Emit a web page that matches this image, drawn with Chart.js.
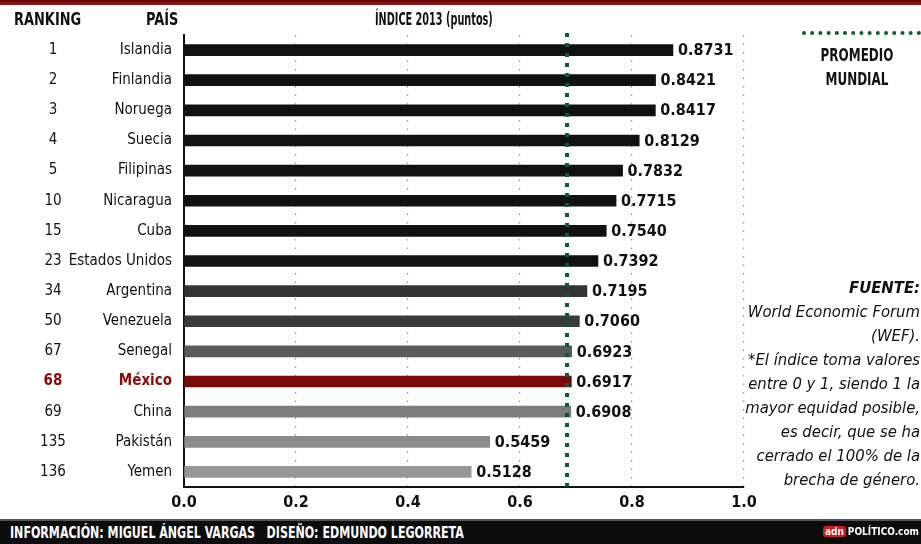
<!DOCTYPE html>
<html>
<head>
<meta charset="utf-8">
<script src="https://cdn.jsdelivr.net/npm/chart.js@4.4.0/dist/chart.umd.min.js"></script>
<style>
  body { margin: 0; width: 921px; height: 544px; overflow: hidden; background: #fff;
    font-family: "Liberation Sans Narrow", "DejaVu Sans Condensed", sans-serif; position: relative; }
  .topbar { position: absolute; left: 0; top: 0; width: 921px; height: 5px;
    background: linear-gradient(#5a0606, #a01818); }
  .hdr { position: absolute; top: 8px; font-weight: bold; font-size: 18px; color: #111;
    transform: scaleX(0.8); transform-origin: left; white-space: nowrap; }
  #wrap { position: absolute; left: 0; top: 0; width: 921px; height: 518px; }
  .legline { position: absolute; left: 802px; top: 31px; width: 119px; border-top: 4px dotted #0b5b2b; }
  .legtxt { position: absolute; left: 790px; top: 43px; width: 134px; text-align: center;
    font-weight: bold; font-size: 17.5px; line-height: 24px; color: #111;
    transform: scaleX(0.76); transform-origin: center; }
  .note { position: absolute; right: 1px; top: 276px; text-align: right; font-style: italic;
    font-size: 16.5px; line-height: 24px; color: #111; }
  .footer { position: absolute; left: 0; top: 519px; width: 921px; height: 25px; background: #0c0c0c;
    border-top: 2px solid #555; box-sizing: border-box; color: #fff; font-weight: bold; font-size: 15px; }
  .footer .cred { position: absolute; left: 10px; top: 3px; white-space: nowrap;
    transform: scaleX(0.82); transform-origin: left; }
  .logo { position: absolute; right: 2px; top: 5px; font-size: 10px; }
  .logo b { background: #d01c1c; border-radius: 3px; padding: 0 2px; margin-right: 2px; }
</style>
</head>
<body>
<div class="topbar"></div>
<div id="wrap"><canvas id="chart"></canvas></div>
<div class="hdr" style="left:14px">RANKING</div>
<div class="hdr" style="left:146px">PAÍS</div>
<div class="hdr" style="left:375px; transform: scaleX(0.6)">ÍNDICE 2013 (puntos)</div>
<div class="legline"></div>
<div class="legtxt">PROMEDIO<br>MUNDIAL</div>
<div class="note"><b>FUENTE:</b><br>World Economic Forum<br>(WEF).<br>*El índice toma valores<br>entre 0 y 1, siendo 1 la<br>mayor equidad posible,<br>es decir, que se ha<br>cerrado el 100% de la<br>brecha de género.</div>
<div class="footer">
  <span class="cred">INFORMACIÓN: MIGUEL ÁNGEL VARGAS &nbsp; DISEÑO: EDMUNDO LEGORRETA</span>
  <span class="logo"><b>adn</b>POLÍTICO.com</span>
</div>
<script>
// Índice global de brecha de género 2013
const rankings = [1, 2, 3, 4, 5, 10, 15, 23, 34, 50, 67, 68, 69, 135, 136];
const countries = ["Islandia", "Finlandia", "Noruega", "Suecia", "Filipinas", "Nicaragua", "Cuba",
  "Estados Unidos", "Argentina", "Venezuela", "Senegal", "México", "China", "Pakistán", "Yemen"];
const values = [0.8731, 0.8421, 0.8417, 0.8129, 0.7832, 0.7715, 0.754, 0.7392,
  0.7195, 0.706, 0.6923, 0.6917, 0.6908, 0.5459, 0.5128];
const worldAverage = 0.684;
const xTicks = [0, 0.2, 0.4, 0.6, 0.8, 1.0];

const barColors = ["#111", "#111", "#111", "#111", "#111", "#111", "#111", "#111",
  "#343434", "#3a3a3a", "#5a5a5a", "#7a0a0a", "#7c7c7c", "#8c8c8c", "#979797"];
const highlight = "México";
const font = '"Liberation Sans Narrow", "DejaVu Sans Condensed", sans-serif';

const extras = {
  id: "extras",
  afterDatasetsDraw(chart) {
    const { ctx, chartArea } = chart;
    const x = chart.scales.x, y = chart.scales.y;
    ctx.save();
    // promedio mundial
    const ax = x.getPixelForValue(worldAverage);
    ctx.strokeStyle = "#0b5b2b";
    ctx.lineWidth = 4;
    ctx.setLineDash([4, 6]);
    ctx.beginPath();
    ctx.moveTo(ax, chartArea.top - 2);
    ctx.lineTo(ax, chartArea.bottom);
    ctx.stroke();
    ctx.setLineDash([]);
    // valores y ranking
    ctx.textBaseline = "middle";
    values.forEach((v, i) => {
      const py = y.getPixelForValue(i);
      ctx.fillStyle = "#111";
      ctx.font = "bold 16px " + font;
      ctx.textAlign = "left";
      ctx.fillText(v.toFixed(4), x.getPixelForValue(v) + 5, py + 1);
      ctx.font = (countries[i] === highlight ? "bold " : "") + "15px " + font;
      ctx.fillStyle = countries[i] === highlight ? "#8b0a0a" : "#111";
      ctx.textAlign = "center";
      ctx.fillText(String(rankings[i]), 53, py);
    });
    ctx.restore();
  }
};

new Chart(document.getElementById("chart").getContext("2d"), {
  type: "bar",
  data: {
    labels: countries,
    datasets: [
      {
        data: values,
        backgroundColor: barColors,
        barThickness: 11,
      },
    ],
  },
  options: {
    indexAxis: "y",
    responsive: true,
    maintainAspectRatio: false,
    animation: false,
    layout: { padding: { top: 35, right: 177, left: 0, bottom: 0 } },
    plugins: {
      legend: { display: false },
      tooltip: { enabled: false },
    },
    scales: {
      x: {
        min: 0,
        max: 1,
        afterBuildTicks: (s) => { s.ticks = xTicks.map((v) => ({ value: v })); },
        afterFit: (s) => { s.height = 31; },
        grid: {
          color: (c) => (c.tick && c.tick.value === 0 ? "rgba(0,0,0,0)" : "#8a8a8a"),
          drawTicks: false,
          lineWidth: 1.2,
        },
        border: { color: "#111", width: 2, dash: [1.5, 7] },
        ticks: {
          color: "#111",
          padding: 6,
          font: { family: font, size: 16, weight: "bold" },
          callback: (v) => Number(v).toFixed(1),
        },
      },
      y: {
        afterFit: (s) => { s.width = 184; },
        grid: { display: false },
        border: { color: "#111", width: 2 },
        ticks: {
          padding: 4,
          color: (c) => (countries[c.index] === highlight ? "#8b0a0a" : "#111"),
          font: (c) => ({ family: font, size: 15, weight: countries[c.index] === highlight ? "bold" : "normal" }),
        },
      },
    },
  },
  plugins: [extras],
});
</script>
</body>
</html>
